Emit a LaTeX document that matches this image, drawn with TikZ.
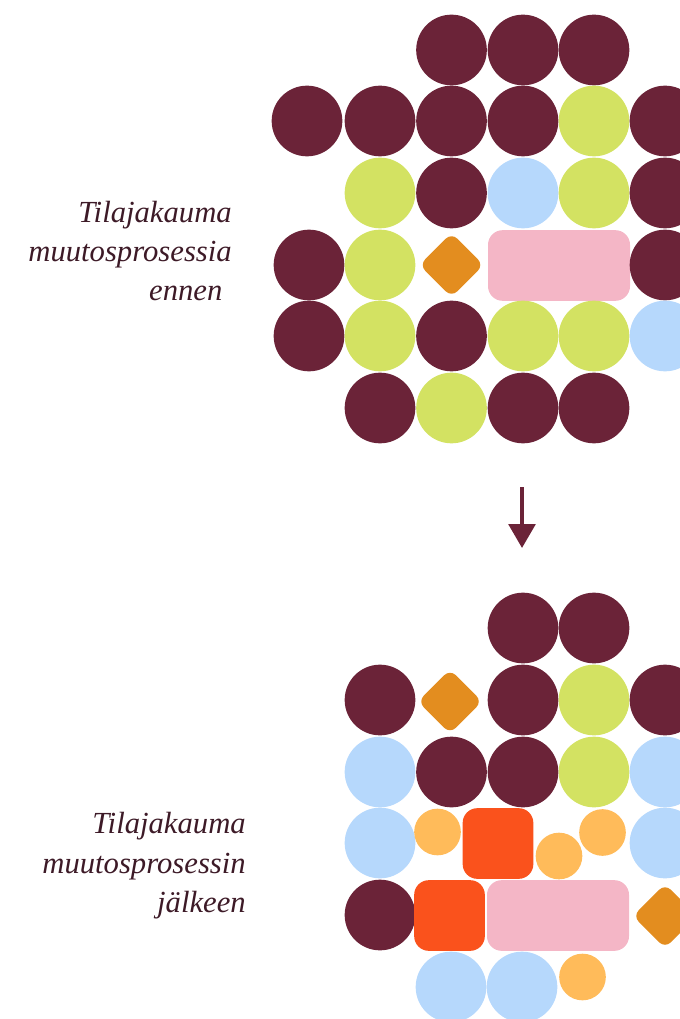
\documentclass[tikz,border=0pt]{standalone}
\usepackage{fontspec}
\setmainfont{Liberation Serif}
\usetikzlibrary{arrows.meta,positioning}
\definecolor{wine}{RGB}{107,35,56}
\definecolor{lime}{RGB}{211,226,98}
\definecolor{sky}{RGB}{182,216,252}
\definecolor{rose}{RGB}{244,182,198}
\definecolor{amber}{RGB}{227,141,31}
\definecolor{flame}{RGB}{250,82,28}
\definecolor{apricot}{RGB}{255,187,90}
\definecolor{ink}{RGB}{61,26,39}
\tikzset{
  ball/.style={circle, inner sep=0pt, minimum size=53pt},
  wball/.style={ball, fill=wine},
  lball/.style={ball, fill=lime},
  sball/.style={ball, fill=sky},
  pball/.style={circle, inner sep=0pt, minimum size=35pt, fill=apricot},
  bar/.style={rectangle, fill=rose, rounded corners=11pt, inner sep=0pt,
              minimum width=106.5pt, minimum height=53pt},
  sq/.style={rectangle, fill=flame, rounded corners=11pt, inner sep=0pt,
             minimum size=53pt},
  gem/.style={rectangle, fill=amber, rounded corners=6pt, inner sep=0pt,
              minimum size=34pt, rotate=45},
  lbl/.style={anchor=east, align=right, text=ink, inner sep=0pt,
              font=\fontsize{23}{29.6}\selectfont\itshape},
  flowarr/.style={-{Triangle[width=20pt, length=18pt]}, wine, line width=3pt},
}

\begin{document}
\begin{tikzpicture}[x=0.75pt, y=-0.75pt]
    \clip (0,0) rectangle (680,1019);
    % before
    \node[wball] (a11) at (451.5,50) {};
    \node[wball] (a12) at (523,50) {};
    \node[wball] (a13) at (594,50) {};
    \node[wball] (a21) at (307,121) {};
    \node[wball] (a22) at (380,121) {};
    \node[wball] (a23) at (451.5,121) {};
    \node[wball] (a24) at (523,121) {};
    \node[lball] (a25) at (594,121) {};
    \node[wball] (a26) at (665,121) {};
    \node[lball] (a32) at (380,193) {};
    \node[wball] (a33) at (451.5,193) {};
    \node[sball] (a34) at (523,193) {};
    \node[lball] (a35) at (594,193) {};
    \node[wball] (a36) at (665,193) {};
    \node[wball] (a41) at (309,265) {};
    \node[lball] (a42) at (380,265) {};
    \node[gem] (a43) at (451.5,265) {};
    \node[bar] (a44) at (559,265.5) {};
    \node[wball] (a46) at (665,265) {};
    \node[wball] (a51) at (309,336) {};
    \node[lball] (a52) at (380,336) {};
    \node[wball] (a53) at (451.5,336) {};
    \node[lball] (a54) at (523,336) {};
    \node[lball] (a55) at (594,336) {};
    \node[sball] (a56) at (665,336) {};
    \node[wball] (a62) at (380,408) {};
    \node[lball] (a63) at (451.5,408) {};
    \node[wball] (a64) at (523,408) {};
    \node[wball] (a65) at (594,408) {};
    \node[lbl] (before) at (232,251) {Tilajakauma\\muutosprosessia\\ennen\hspace*{7pt}};
    % change
    \coordinate (arrtop) at (522,487);
    \coordinate (arrbot) at (522,548);
    \draw[flowarr] (arrtop) -- (arrbot);
    % after
    \node[wball] (b14) at (523,628) {};
    \node[wball] (b15) at (594,628) {};
    \node[wball] (b22) at (380,700) {};
    \node[gem] (b23) at (450,701.5) {};
    \node[wball] (b24) at (523,700) {};
    \node[lball] (b25) at (594,700) {};
    \node[wball] (b26) at (665,700) {};
    \node[sball] (b32) at (380,772) {};
    \node[wball] (b33) at (451.5,772) {};
    \node[wball] (b34) at (523,772) {};
    \node[lball] (b35) at (594,772) {};
    \node[sball] (b36) at (665,772) {};
    \node[sball] (b42) at (380,843) {};
    \node[pball] (b4a) at (437.5,832) {};
    \node[sq] (b43) at (498,843.5) {};
    \node[pball] (b4b) at (559,856) {};
    \node[pball] (b4c) at (602.5,832.5) {};
    \node[sball] (b46) at (665,843) {};
    \node[wball] (b52) at (380,915) {};
    \node[sq] (b53) at (449.5,915.5) {};
    \node[bar] (b54) at (558,915.5) {};
    \node[gem] (b56) at (665,916) {};
    \node[sball] (b63) at (451,987) {};
    \node[sball] (b64) at (522,987) {};
    \node[pball] (b6a) at (582.5,977) {};
    \node[lbl] (after) at (246,866) {Tilajakauma\\muutosprosessin\\jälkeen};
\end{tikzpicture}
\end{document}
